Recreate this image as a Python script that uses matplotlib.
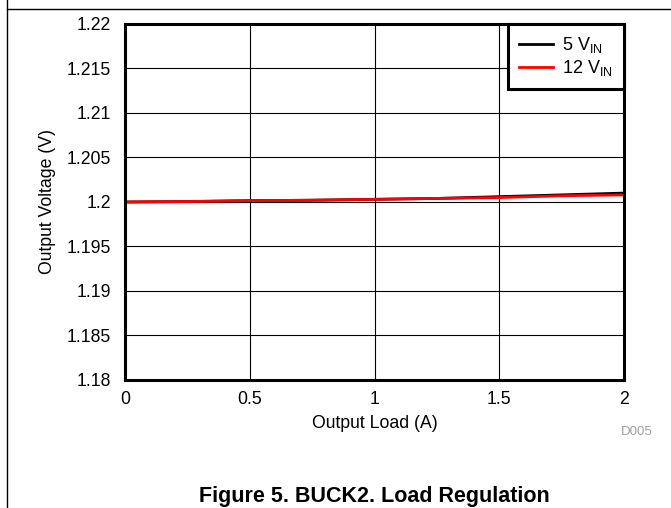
import matplotlib
matplotlib.use("Agg")
import matplotlib.pyplot as plt
from matplotlib.lines import Line2D

plt.rcParams['font.family'] = ['Liberation Sans', 'DejaVu Sans']
plt.rcParams['mathtext.fontset'] = 'custom'
plt.rcParams['mathtext.rm'] = 'Liberation Sans'

# data
load_a = [0.0, 0.25, 0.5, 0.75, 1.0, 1.25, 1.5, 1.75, 2.0]
vout_5vin = [1.2000, 1.20005, 1.20015, 1.2002, 1.2003, 1.2004, 1.2006, 1.2008, 1.2010]
vout_12vin = [1.2000, 1.20005, 1.20015, 1.2002, 1.2003, 1.2004, 1.2005, 1.2007, 1.2008]

x_ticks = [0, 0.5, 1, 1.5, 2]
x_labels = ['0', '0.5', '1', '1.5', '2']
y_ticks = [1.18, 1.185, 1.19, 1.195, 1.2, 1.205, 1.21, 1.215, 1.22]
y_labels = ['1.18', '1.185', '1.19', '1.195', '1.2', '1.205', '1.21', '1.215', '1.22']

W, H = 671, 508
FS = 12.7

fig = plt.figure(figsize=(W / 100, H / 100), dpi=100)
ax = fig.add_axes([125 / W, 1 - 380 / H, (624 - 125) / W, (380 - 24) / H])

ax.plot(load_a, vout_5vin, color='black', lw=2, label=r'5 V$_{\mathrm{IN}}$')
ax.plot(load_a, vout_12vin, color='#ff0000', lw=2, label=r'12 V$_{\mathrm{IN}}$')

ax.set_xlim(0, 2)
ax.set_ylim(1.18, 1.22)
ax.set_xticks(x_ticks)
ax.set_xticklabels(x_labels)
ax.set_yticks(y_ticks)
ax.set_yticklabels(y_labels)
ax.tick_params(length=0, labelsize=FS, pad=10)
ax.tick_params(axis='x', pad=8)
ax.grid(True, color='black', lw=0.8)
ax.set_axisbelow(True)
for s in ax.spines.values():
    s.set_linewidth(2.2)

ax.set_xlabel('Output Load (A)', fontsize=FS, labelpad=5)
ax.set_ylabel('Output Voltage (V)', fontsize=FS, labelpad=8)

leg = ax.legend(loc='upper right', fontsize=13, borderaxespad=0, fancybox=False,
                framealpha=1, edgecolor='black', handlelength=1.9,
                handletextpad=0.5, borderpad=0.6, labelspacing=0.2)
leg.get_frame().set_linewidth(2.2)

# frame lines of the page
fig.add_artist(Line2D([7 / W, 7 / W], [0, 1], transform=fig.transFigure, color='black', lw=1))
fig.add_artist(Line2D([7 / W, 1], [1 - 9 / H, 1 - 9 / H], transform=fig.transFigure, color='black', lw=1))

fig.text(653 / W, 1 - 432 / H, 'D005', color='#a0a0a0', fontsize=9.5, ha='right', va='center')
fig.text(374 / W, 1 - 502 / H, 'Figure 5. BUCK2. Load Regulation', fontsize=15.5,
         fontweight='bold', ha='center', va='baseline')

fig.savefig('out.png', dpi=100)
